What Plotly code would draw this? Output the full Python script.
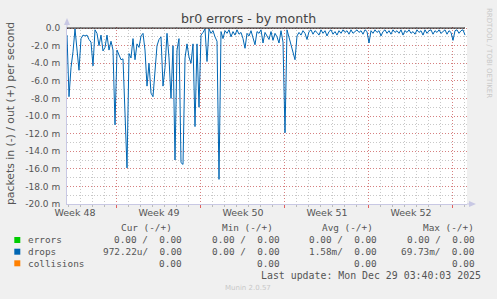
import pandas as pd
import plotly.graph_objects as go

# ---------------- data ----------------
# drops, inbound (shown negative), in milli-packets per second, 4-hour steps
series_start = "2025-11-26 22:00"
step = "4h"
drops_in_milli = [
    -0.8, -7.8, -4.5, -2.7, -0.1, -2.5, -4.8, -1.2, -0.8, -0.9,
    -0.8, -1.3, -1.6, -4.3, -0.2, -0.6, -2.0, -0.8, -2.6, -2.2,
    -0.8, -2.5, -1.5, -2.5, -11.0, -2.5, -3.0, -3.6, -3.5, -10.8,
    -15.9, -2.9, -3.4, -1.2, -3.6, -1.8, -2.2, -0.9, -0.6, -2.5,
    -6.6, -4.0, -7.4, -7.8, -5.0, -2.0, -1.3, -1.0, -6.6, -4.5,
    -0.6, -3.4, -8.0, -2.0, -15.0, -2.5, -1.2, -15.3, -15.5, -3.4,
    -1.8, -3.3, -4.0, -1.8, -11.2, -1.8, -9.0, -0.8, -0.5, -0.1,
    -3.8, -0.1, -0.6, -0.3, -1.0, -1.5, -17.2, -0.4, -1.2, -0.3,
    -0.6, -0.2, -1.0, -0.4, -0.8, -0.2, -0.7, -0.5, -1.2, -2.3,
    -0.6, -0.9, -0.3, -1.0, -1.9, -0.4, -0.6, -0.2, -1.7, -0.5,
    -0.9, -1.3, -0.4, -1.4, -0.6, -1.0, -1.7, -0.3, -1.6, -11.9,
    -0.2, -1.0, -1.7, -2.8, -3.6, -0.9, -0.5, -0.8, -0.3, -0.6,
    -1.3, -0.4, -0.2, -0.7, -0.3, -0.5, -0.8, -0.2, -0.6, -0.3,
    -0.9, -0.4, -0.2, -0.7, -0.4, -0.8, -0.3, -0.6, -0.2, -0.5,
    -0.3, -0.7, -0.2, -0.6, -0.4, -0.2, -0.5, -0.3, -0.7, -0.2,
    -0.4, -1.7, -0.3, -0.6, -0.2, -0.5, -0.3, -0.9, -0.4, -0.2,
    -0.6, -0.3, -0.7, -0.2, -0.5, -0.3, -0.6, -0.2, -0.8, -0.3,
    -0.5, -0.2, -0.6, -0.4, -0.7, -0.2, -0.5, -0.3, -0.8, -0.2,
    -0.6, -0.3, -0.2, -0.7, -0.3, -0.5, -0.2, -0.6, -0.4, -0.2,
    -0.7, -0.3, -0.5, -1.4, -0.3, -0.2, -0.6, -0.3, -0.2, -0.8,
]
x_range = ["2025-11-26 22:00", "2025-12-30 06:00"]
week_starts = ["2025-11-24", "2025-12-01", "2025-12-08", "2025-12-15",
               "2025-12-22", "2025-12-29"]
week_labels = ["Week 48", "Week 49", "Week 50", "Week 51", "Week 52"]
y_ticks = [0, -2, -4, -6, -8, -10, -12, -14, -16, -18, -20]
y_tick_text = ["0.0"] + [f"{v:.1f} m" for v in y_ticks[1:]]

legend_names = ["errors", "drops", "collisions"]
legend_colors = ["#00cc00", "#0066b3", "#ff8000"]
col_headers = ["Cur (-/+)", "Min (-/+)", "Avg (-/+)", "Max (-/+)"]
legend_values = [
    ["0.00 /  0.00", "0.00 /  0.00", "0.00 /  0.00", "0.00 /  0.00"],
    ["972.22u/  0.00", "0.00 /  0.00", "1.58m/  0.00", "69.73m/  0.00"],
    ["0.00", "0.00", "0.00", "0.00"],
]
last_update = "Last update: Mon Dec 29 03:40:03 2025"

# ---------------- geometry helpers (pixels -> paper) ----------------
W, H = 497, 299
PL, PR, PT, PB = 67, 467, 27, 204


def px(x):
    return (x - PL) / (PR - PL)


def py(y):
    return (PB - y) / (PB - PT)


times = pd.date_range(series_start, periods=len(drops_in_milli), freq=step)
zero_out = [0.0] * len(drops_in_milli)
label_pos = [pd.Timestamp(d) + pd.Timedelta(hours=3 * 24 + 14) for d in week_starts[:-1]]

fig = go.Figure()
fig.add_trace(go.Scatter(x=times, y=drops_in_milli, mode="lines",
                         line=dict(color="#0066b3", width=1),
                         xaxis="x", yaxis="y", showlegend=False,
                         hoverinfo="skip"))
fig.add_trace(go.Scatter(x=times, y=zero_out, mode="lines",
                         line=dict(color="#000000", width=1),
                         xaxis="x2", yaxis="y", showlegend=False,
                         hoverinfo="skip"))

grey_grid = "#c8c8c8"
red_grid = "rgba(225,70,70,0.55)"
dash = "1px,2px"
font_sans = "DejaVu Sans"
font_mono = "DejaVu Sans Mono"

fig.update_layout(
    width=W, height=H,
    margin=dict(l=PL, r=W - PR, t=PT, b=H - PB),
    paper_bgcolor="#f0f0f0",
    plot_bgcolor="#ffffff",
    showlegend=False,
    xaxis=dict(
        type="date", range=x_range,
        tickmode="array", tickvals=label_pos, ticktext=week_labels,
        ticks="", showgrid=False, zeroline=False,
        showline=True, linecolor="#c8c8e4", linewidth=1,
        tickfont=dict(family=font_sans, size=9.5, color="#555555"),
        minor=dict(dtick=86400000, tick0="2025-11-24", showgrid=True,
                   gridcolor=grey_grid, griddash=dash, gridwidth=1,
                   ticks="outside", ticklen=2, tickcolor="#bbbbbb"),
    ),
    xaxis2=dict(
        type="date", range=x_range, overlaying="x", anchor="y", side="bottom",
        tickmode="array", tickvals=week_starts, showticklabels=False,
        ticks="outside", ticklen=3, tickcolor="#e06060",
        showgrid=True, gridcolor=red_grid, griddash=dash, gridwidth=1,
        zeroline=False, showline=False,
    ),
    yaxis=dict(
        range=[-20, 0.12],
        tickmode="array", tickvals=y_ticks, ticktext=y_tick_text,
        ticks="outside", ticklen=4, tickcolor="rgba(0,0,0,0)",
        showgrid=True, gridcolor=red_grid, griddash=dash, gridwidth=1,
        zeroline=False, showline=True, linecolor="#c8c8e4", linewidth=1,
        tickfont=dict(family=font_sans, size=9, color="#555555"),
        minor=dict(dtick=1, showgrid=True, gridcolor=grey_grid,
                   griddash=dash, gridwidth=1),
    ),
)

annotations = []
shapes = []

# title
annotations.append(dict(text="br0 errors - by month", x=px(248), y=py(19),
                        xref="paper", yref="paper", showarrow=False,
                        xanchor="center", yanchor="middle",
                        font=dict(family=font_sans, size=12.6, color="#444444")))
# y title
annotations.append(dict(text="packets in (-) / out (+) per second",
                        x=px(10), y=py(114), xref="paper", yref="paper",
                        showarrow=False, textangle=-90,
                        xanchor="center", yanchor="middle",
                        font=dict(family=font_sans, size=10.8, color="#555555")))
# watermark
annotations.append(dict(text="RRDTOOL / TOBI OETIKER", x=px(489), y=py(53),
                        xref="paper", yref="paper", showarrow=False,
                        textangle=90, xanchor="center", yanchor="middle",
                        font=dict(family=font_sans, size=7, color="#c8c8c8")))

# axis arrows
shapes.append(dict(type="line", xref="paper", yref="paper",
                   x0=0, x1=0, y0=py(PT), y1=py(22),
                   line=dict(color="#c8c8e4", width=1)))
shapes.append(dict(type="path", xref="paper", yref="paper",
                   path=f"M {px(64)},{py(25)} L {px(70)},{py(25)} L {px(67)},{py(18)} Z",
                   fillcolor="#c8c8e4", line=dict(width=0)))
shapes.append(dict(type="line", xref="paper", yref="paper",
                   x0=1, x1=px(471), y0=0, y1=0,
                   line=dict(color="#c8c8e4", width=1)))
shapes.append(dict(type="path", xref="paper", yref="paper",
                   path=f"M {px(469)},{py(201)} L {px(469)},{py(207)} L {px(476)},{py(204)} Z",
                   fillcolor="#c8c8e4", line=dict(width=0)))

# legend table
header_right = [174, 275, 375, 476]
value_right = [183.5, 282, 378.5, 477]
row_y = [240, 251.7, 263.3]
header_y = 227.3

for h, xr in zip(col_headers, header_right):
    annotations.append(dict(text=h.replace(" ", "&nbsp;"), x=px(xr), y=py(header_y),
                            xref="paper", yref="paper", showarrow=False,
                            xanchor="right", yanchor="middle",
                            font=dict(family=font_mono, size=9.4, color="#555555")))

for name, color, vals, yy in zip(legend_names, legend_colors, legend_values, row_y):
    shapes.append(dict(type="rect", xref="paper", yref="paper",
                       x0=px(14.3), x1=px(20.3), y0=py(yy + 3), y1=py(yy - 3),
                       fillcolor=color, line=dict(width=0)))
    annotations.append(dict(text=name, x=px(26), y=py(yy),
                            xref="paper", yref="paper", showarrow=False,
                            xanchor="left", yanchor="middle",
                            font=dict(family=font_mono, size=9.4, color="#555555")))
    for v, xr in zip(vals, value_right):
        annotations.append(dict(text=v.replace(" ", "&nbsp;"), x=px(xr), y=py(yy),
                                xref="paper", yref="paper", showarrow=False,
                                xanchor="right", yanchor="middle",
                                font=dict(family=font_mono, size=9.4, color="#555555")))

annotations.append(dict(text=last_update.replace(" ", "&nbsp;"), x=px(482.5), y=py(275.7),
                        xref="paper", yref="paper", showarrow=False,
                        xanchor="right", yanchor="middle",
                        font=dict(family=font_mono, size=9.9, color="#555555")))
annotations.append(dict(text="Munin 2.0.57", x=px(248), y=py(288),
                        xref="paper", yref="paper", showarrow=False,
                        xanchor="center", yanchor="middle",
                        font=dict(family=font_sans, size=7, color="#c8c8c8")))

fig.update_layout(annotations=annotations, shapes=shapes)

fig.write_html("out.html")
